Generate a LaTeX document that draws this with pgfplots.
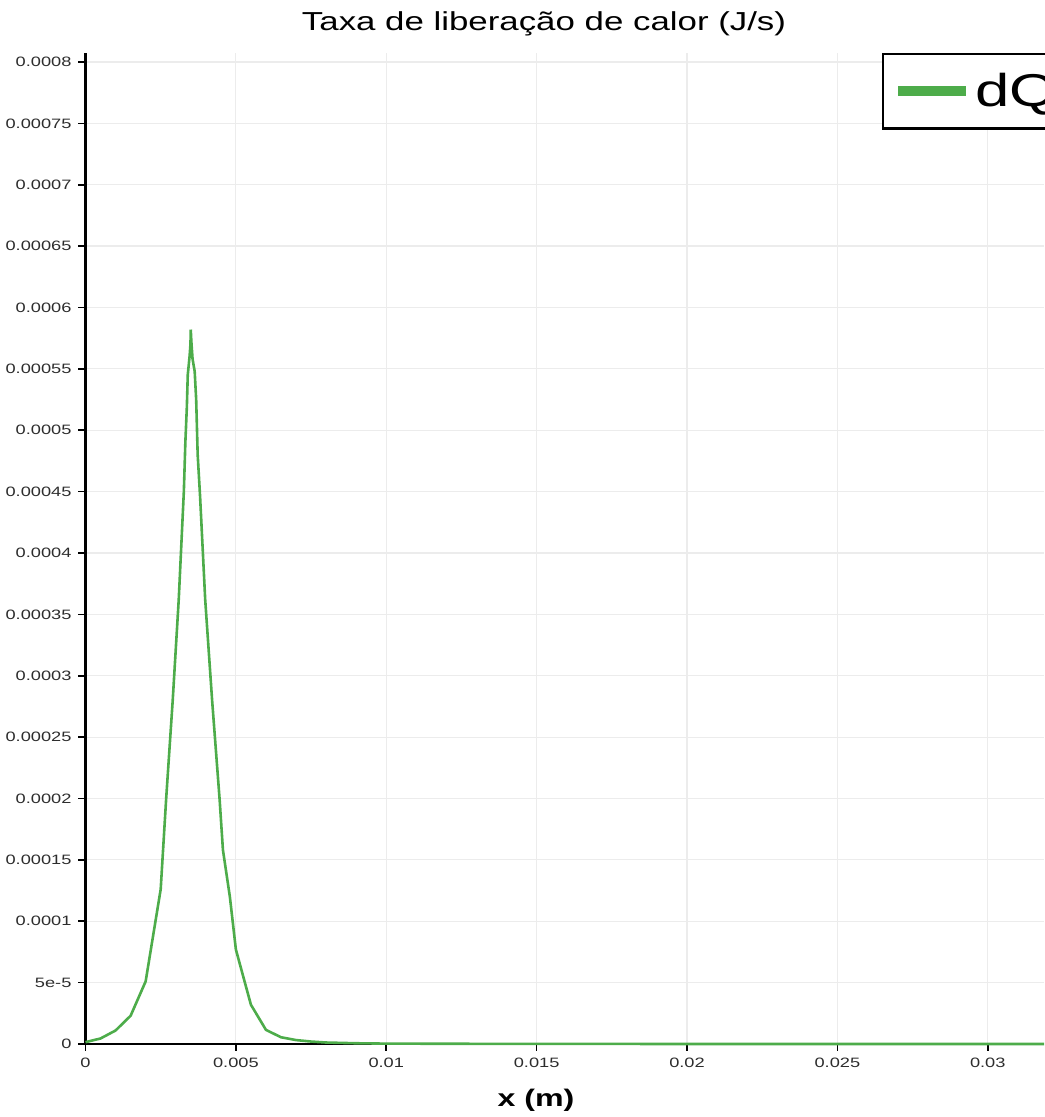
\documentclass[border=0pt]{standalone}
\usepackage{fontspec}
\setmainfont{Liberation Sans}[FakeStretch=1.34]
\usepackage{pgfplots}
\pgfplotsset{compat=1.18}
\definecolor{lgreen}{RGB}{77,172,74}
\definecolor{gridc}{RGB}{236,236,236}
\definecolor{tickc}{RGB}{45,45,45}
\begin{document}
\begin{tikzpicture}
\begin{axis}[
  name=ax, at={(0,0)}, anchor=south west,
  scale only axis, width=479.25pt, height=495.5pt,
  xmin=0, xmax=0.03187, ymin=0, ymax=0.0008073,
  axis x line*=bottom, axis y line*=left,
  axis line style={line width=1.1pt, black, -},
  xtick={0,0.005,0.01,0.015,0.02,0.025,0.03},
  xticklabels={0,0.005,0.01,0.015,0.02,0.025,0.03},
  ytick={0,0.00005,0.0001,0.00015,0.0002,0.00025,0.0003,0.00035,0.0004,0.00045,0.0005,0.00055,0.0006,0.00065,0.0007,0.00075,0.0008},
  yticklabels={0,5e-5,0.0001,0.00015,0.0002,0.00025,0.0003,0.00035,0.0004,0.00045,0.0005,0.00055,0.0006,0.00065,0.0007,0.00075,0.0008},
  scaled ticks=false,
  tick align=outside, major tick length=3.5pt,
  tick style={black, line width=0.8pt},
  grid=major, grid style={gridc, line width=0.6pt},
  ticklabel style={font=\fontsize{6.8}{8}\selectfont, text=tickc},
  every axis title shift=0pt,
  title={Taxa de liberação de calor (J/s)},
  title style={at={(0.4784,1.0232)}, anchor=base, font=\fontsize{13}{15}\selectfont},
  xlabel={x (m)},
  xlabel style={at={(0.470,-0.0632)}, anchor=base, font=\bfseries\fontsize{12}{14}\selectfont},
  clip=false,
  legend style={at={(0.8307,1.0003)}, anchor=north west, draw=black, line width=1.3pt,
    font=\fontsize{23}{26}\selectfont, inner xsep=5pt, inner ysep=7.5pt},
  legend image code/.code={\draw[#1, line width=5pt] (0pt,0pt) -- (34pt,0pt);},
]
\addplot[lgreen, line width=1.3pt] table[row sep=\\] {
x y \\
0 1.5e-6 \\
0.0005 4.5e-6 \\
0.001 1.1e-5 \\
0.0015 2.3e-5 \\
0.002 5.1e-5 \\
0.0025 1.26e-4 \\
0.00268 1.99e-4 \\
0.0029 2.8e-4 \\
0.0031 3.62e-4 \\
0.00327 4.5e-4 \\
0.00332 4.9e-4 \\
0.00337 5.19e-4 \\
0.0034 5.45e-4 \\
0.00346 5.6e-4 \\
0.00349 5.7e-4 \\
0.0035 5.82e-4 \\
0.00352 5.72e-4 \\
0.00356 5.58e-4 \\
0.00363 5.48e-4 \\
0.00368 5.25e-4 \\
0.00373 4.8e-4 \\
0.00381 4.46e-4 \\
0.00398 3.62e-4 \\
0.00421 2.8e-4 \\
0.00446 1.99e-4 \\
0.00457 1.58e-4 \\
0.0048 1.2e-4 \\
0.005 7.7e-5 \\
0.0055 3.2e-5 \\
0.006 1.15e-5 \\
0.0065 5.5e-6 \\
0.007 3.2e-6 \\
0.0075 2e-6 \\
0.008 1.2e-6 \\
0.009 6e-7 \\
0.01 3e-7 \\
0.015 5e-8 \\
0.03187 0 \\
};
\addlegendentry{dQ}
\end{axis}
\pgfresetboundingbox
\path ([xshift=-42.75pt, yshift=-36.5pt]ax.south west) rectangle ([yshift=26.5pt]ax.north east);
\end{tikzpicture}
\end{document}
